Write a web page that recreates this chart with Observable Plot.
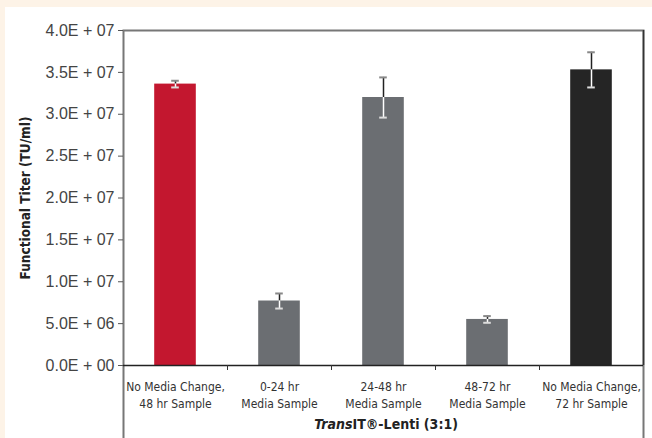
<!DOCTYPE html>
<html>
<head>
<meta charset="utf-8">
<script src="https://cdn.jsdelivr.net/npm/d3@7"></script>
<script src="https://cdn.jsdelivr.net/npm/@observablehq/plot@0.6"></script>
<style>
  html, body { margin: 0; padding: 0; background: #fdf3e7; }
  #wrap { position: relative; width: 652px; height: 438px; overflow: hidden; }
  #panel { position: absolute; left: 5px; top: 7px; right: 0; bottom: 0; background: #ffffff; }
  #chart { position: absolute; left: 0; top: 0; }
</style>
</head>
<body>
<div id="wrap"><div id="panel"></div><div id="chart"></div></div>
<script>
const categories = [
  "No Media Change,\n48 hr Sample",
  "0-24 hr\nMedia Sample",
  "24-48 hr\nMedia Sample",
  "48-72 hr\nMedia Sample",
  "No Media Change,\n72 hr Sample"
];
const values = [3.36e7, 0.77e7, 3.20e7, 0.55e7, 3.53e7];
const errors = [0.04e7, 0.09e7, 0.24e7, 0.04e7, 0.21e7];
const colors = ["#c3172f", "#6b6e72", "#6b6e72", "#6b6e72", "#252525"];
const yTicks = [0, 5e6, 1e7, 1.5e7, 2e7, 2.5e7, 3e7, 3.5e7, 4e7];
const yTitle = "Functional Titer (TU/ml)";
const xTitleItalic = "Trans";
const xTitleRest = "IT®-Lenti (3:1)";

const data = categories.map((c, i) => ({cat: c, v: values[i], e: errors[i], color: colors[i]}));

const W = 652, H = 438, ML = 123, MR = 9, MT = 30, MB = 73;
const half = (W - ML - MR) / categories.length / 2;

function fmt(d) {
  if (d === 0) return "0.0E + 00";
  const exp = Math.floor(Math.log10(d));
  const m = d / Math.pow(10, exp);
  return m.toFixed(1) + "E + " + String(exp).padStart(2, "0");
}

const tickFont = "'Liberation Sans', Arial, sans-serif";
const narrow = "'DejaVu Sans Condensed', 'Liberation Sans Narrow', sans-serif";

const chart = Plot.plot({
  width: W,
  height: H,
  marginLeft: ML,
  marginRight: MR,
  marginTop: MT,
  marginBottom: MB,
  style: {background: "transparent", overflow: "visible"},
  x: {domain: categories, paddingInner: 0.6, paddingOuter: 0.3, round: false},
  y: {domain: [0, 4e7]},
  marks: [
    Plot.frame({stroke: "#777", strokeWidth: 2, insetBottom: -90}),
    Plot.ruleX([categories[categories.length - 1]], {dx: half, y1: 0, y2: 4e7, stroke: "#333", strokeWidth: 1.5}),
    Plot.barY(data, {x: "cat", y: "v", fill: "color"}),
    Plot.ruleX(data, {x: "cat", y1: "v", y2: d => d.v + d.e, stroke: "#222", strokeWidth: 1.5}),
    Plot.ruleX(data, {x: "cat", y1: d => d.v - d.e, y2: "v", stroke: "#ffffff", strokeWidth: 1.5}),
    Plot.tickY(data, {x: "cat", y: d => d.v + d.e, stroke: "#888", strokeWidth: 2, insetLeft: 17, insetRight: 17}),
    Plot.tickY(data, {x: "cat", y: d => d.v - d.e, stroke: "#ddd", strokeWidth: 2, insetLeft: 17, insetRight: 17}),
    Plot.ruleY([0], {stroke: "#222", strokeWidth: 1.5}),
    Plot.axisY({ticks: yTicks, tickFormat: fmt, tickSize: 5, tickPadding: 4, stroke: "#555", fill: "#444",
      fontSize: 16, fontFamily: tickFont, label: null}),
    Plot.axisX({ticks: categories.slice(0, categories.length - 1), tickSize: 5, dx: half, text: null, stroke: "#333", label: null}),
    Plot.axisX({tickSize: 0, tickPadding: 13, fill: "#333", fontSize: 12, fontFamily: narrow, lineHeight: 1.45, label: null}),
    Plot.text([yTitle], {frameAnchor: "left", textAnchor: "middle", dx: -98, rotate: -90, fontSize: 13.5, fontWeight: "bold",
      fontFamily: narrow, fill: "#222"}),
    Plot.text([xTitleItalic], {frameAnchor: "bottom", dx: -31, dy: 63, textAnchor: "end", fontSize: 14,
      fontWeight: "bold", fontStyle: "italic", fontFamily: narrow, fill: "#222"}),
    Plot.text([xTitleRest], {frameAnchor: "bottom", dx: -31, dy: 63, textAnchor: "start", fontSize: 14,
      fontWeight: "bold", fontFamily: narrow, fill: "#222"})
  ]
});
document.getElementById("chart").appendChild(chart);
</script>
</body>
</html>
